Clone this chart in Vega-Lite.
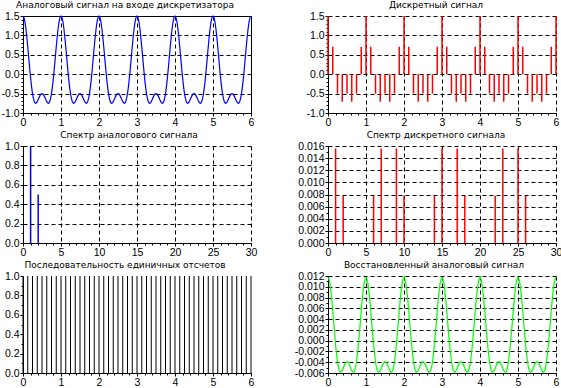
{
"$schema": "https://vega.github.io/schema/vega-lite/v6.json",
"padding": {"left": 0, "top": 0, "right": 0, "bottom": 0},
"background": "white",
"columns": 2,
"spacing": {"row": 33, "column": 77},
"bounds": "flush",
"datasets": {
"curve": [
{"t":0,"a":1.5,"r":0.011719},{"t":0.025,"a":1.4632,"r":0.011431},{"t":0.05,"a":1.3556,"r":0.010591},{"t":0.075,"a":1.1849,"r":0.009257},{"t":0.1,"a":0.9635,"r":0.007527},{"t":0.125,"a":0.7071,"r":0.005524},{"t":0.15,"a":0.4333,"r":0.003385},{"t":0.175,"a":0.1601,"r":0.001251},{"t":0.2,"a":-0.0955,"r":-0.000746},{"t":0.225,"a":-0.3191,"r":-0.002493},{"t":0.25,"a":-0.5,"r":-0.003906},{"t":0.275,"a":-0.632,"r":-0.004938},{"t":0.3,"a":-0.7135,"r":-0.005574},{"t":0.325,"a":-0.7479,"r":-0.005843},{"t":0.35,"a":-0.7423,"r":-0.005799},{"t":0.375,"a":-0.7071,"r":-0.005524},{"t":0.4,"a":-0.6545,"r":-0.005113},{"t":0.425,"a":-0.5971,"r":-0.004665},{"t":0.45,"a":-0.5466,"r":-0.00427},{"t":0.475,"a":-0.5122,"r":-0.004002},{"t":0.5,"a":-0.5,"r":-0.003906},{"t":0.525,"a":-0.5122,"r":-0.004002},{"t":0.55,"a":-0.5466,"r":-0.00427},{"t":0.575,"a":-0.5971,"r":-0.004665},{"t":0.6,"a":-0.6545,"r":-0.005113},{"t":0.625,"a":-0.7071,"r":-0.005524},{"t":0.65,"a":-0.7423,"r":-0.005799},{"t":0.675,"a":-0.7479,"r":-0.005843},{"t":0.7,"a":-0.7135,"r":-0.005574},{"t":0.725,"a":-0.632,"r":-0.004938},{"t":0.75,"a":-0.5,"r":-0.003906},{"t":0.775,"a":-0.3191,"r":-0.002493},{"t":0.8,"a":-0.0955,"r":-0.000746},{"t":0.825,"a":0.1601,"r":0.001251},{"t":0.85,"a":0.4333,"r":0.003385},{"t":0.875,"a":0.7071,"r":0.005524},{"t":0.9,"a":0.9635,"r":0.007527},{"t":0.925,"a":1.1849,"r":0.009257},{"t":0.95,"a":1.3556,"r":0.010591},{"t":0.975,"a":1.4632,"r":0.011431},
{"t":1,"a":1.5,"r":0.011719},{"t":1.025,"a":1.4632,"r":0.011431},{"t":1.05,"a":1.3556,"r":0.010591},{"t":1.075,"a":1.1849,"r":0.009257},{"t":1.1,"a":0.9635,"r":0.007527},{"t":1.125,"a":0.7071,"r":0.005524},{"t":1.15,"a":0.4333,"r":0.003385},{"t":1.175,"a":0.1601,"r":0.001251},{"t":1.2,"a":-0.0955,"r":-0.000746},{"t":1.225,"a":-0.3191,"r":-0.002493},{"t":1.25,"a":-0.5,"r":-0.003906},{"t":1.275,"a":-0.632,"r":-0.004938},{"t":1.3,"a":-0.7135,"r":-0.005574},{"t":1.325,"a":-0.7479,"r":-0.005843},{"t":1.35,"a":-0.7423,"r":-0.005799},{"t":1.375,"a":-0.7071,"r":-0.005524},{"t":1.4,"a":-0.6545,"r":-0.005113},{"t":1.425,"a":-0.5971,"r":-0.004665},{"t":1.45,"a":-0.5466,"r":-0.00427},{"t":1.475,"a":-0.5122,"r":-0.004002},{"t":1.5,"a":-0.5,"r":-0.003906},{"t":1.525,"a":-0.5122,"r":-0.004002},{"t":1.55,"a":-0.5466,"r":-0.00427},{"t":1.575,"a":-0.5971,"r":-0.004665},{"t":1.6,"a":-0.6545,"r":-0.005113},{"t":1.625,"a":-0.7071,"r":-0.005524},{"t":1.65,"a":-0.7423,"r":-0.005799},{"t":1.675,"a":-0.7479,"r":-0.005843},{"t":1.7,"a":-0.7135,"r":-0.005574},{"t":1.725,"a":-0.632,"r":-0.004938},{"t":1.75,"a":-0.5,"r":-0.003906},{"t":1.775,"a":-0.3191,"r":-0.002493},{"t":1.8,"a":-0.0955,"r":-0.000746},{"t":1.825,"a":0.1601,"r":0.001251},{"t":1.85,"a":0.4333,"r":0.003385},{"t":1.875,"a":0.7071,"r":0.005524},{"t":1.9,"a":0.9635,"r":0.007527},{"t":1.925,"a":1.1849,"r":0.009257},{"t":1.95,"a":1.3556,"r":0.010591},{"t":1.975,"a":1.4632,"r":0.011431},
{"t":2,"a":1.5,"r":0.011719},{"t":2.025,"a":1.4632,"r":0.011431},{"t":2.05,"a":1.3556,"r":0.010591},{"t":2.075,"a":1.1849,"r":0.009257},{"t":2.1,"a":0.9635,"r":0.007527},{"t":2.125,"a":0.7071,"r":0.005524},{"t":2.15,"a":0.4333,"r":0.003385},{"t":2.175,"a":0.1601,"r":0.001251},{"t":2.2,"a":-0.0955,"r":-0.000746},{"t":2.225,"a":-0.3191,"r":-0.002493},{"t":2.25,"a":-0.5,"r":-0.003906},{"t":2.275,"a":-0.632,"r":-0.004938},{"t":2.3,"a":-0.7135,"r":-0.005574},{"t":2.325,"a":-0.7479,"r":-0.005843},{"t":2.35,"a":-0.7423,"r":-0.005799},{"t":2.375,"a":-0.7071,"r":-0.005524},{"t":2.4,"a":-0.6545,"r":-0.005113},{"t":2.425,"a":-0.5971,"r":-0.004665},{"t":2.45,"a":-0.5466,"r":-0.00427},{"t":2.475,"a":-0.5122,"r":-0.004002},{"t":2.5,"a":-0.5,"r":-0.003906},{"t":2.525,"a":-0.5122,"r":-0.004002},{"t":2.55,"a":-0.5466,"r":-0.00427},{"t":2.575,"a":-0.5971,"r":-0.004665},{"t":2.6,"a":-0.6545,"r":-0.005113},{"t":2.625,"a":-0.7071,"r":-0.005524},{"t":2.65,"a":-0.7423,"r":-0.005799},{"t":2.675,"a":-0.7479,"r":-0.005843},{"t":2.7,"a":-0.7135,"r":-0.005574},{"t":2.725,"a":-0.632,"r":-0.004938},{"t":2.75,"a":-0.5,"r":-0.003906},{"t":2.775,"a":-0.3191,"r":-0.002493},{"t":2.8,"a":-0.0955,"r":-0.000746},{"t":2.825,"a":0.1601,"r":0.001251},{"t":2.85,"a":0.4333,"r":0.003385},{"t":2.875,"a":0.7071,"r":0.005524},{"t":2.9,"a":0.9635,"r":0.007527},{"t":2.925,"a":1.1849,"r":0.009257},{"t":2.95,"a":1.3556,"r":0.010591},{"t":2.975,"a":1.4632,"r":0.011431},
{"t":3,"a":1.5,"r":0.011719},{"t":3.025,"a":1.4632,"r":0.011431},{"t":3.05,"a":1.3556,"r":0.010591},{"t":3.075,"a":1.1849,"r":0.009257},{"t":3.1,"a":0.9635,"r":0.007527},{"t":3.125,"a":0.7071,"r":0.005524},{"t":3.15,"a":0.4333,"r":0.003385},{"t":3.175,"a":0.1601,"r":0.001251},{"t":3.2,"a":-0.0955,"r":-0.000746},{"t":3.225,"a":-0.3191,"r":-0.002493},{"t":3.25,"a":-0.5,"r":-0.003906},{"t":3.275,"a":-0.632,"r":-0.004938},{"t":3.3,"a":-0.7135,"r":-0.005574},{"t":3.325,"a":-0.7479,"r":-0.005843},{"t":3.35,"a":-0.7423,"r":-0.005799},{"t":3.375,"a":-0.7071,"r":-0.005524},{"t":3.4,"a":-0.6545,"r":-0.005113},{"t":3.425,"a":-0.5971,"r":-0.004665},{"t":3.45,"a":-0.5466,"r":-0.00427},{"t":3.475,"a":-0.5122,"r":-0.004002},{"t":3.5,"a":-0.5,"r":-0.003906},{"t":3.525,"a":-0.5122,"r":-0.004002},{"t":3.55,"a":-0.5466,"r":-0.00427},{"t":3.575,"a":-0.5971,"r":-0.004665},{"t":3.6,"a":-0.6545,"r":-0.005113},{"t":3.625,"a":-0.7071,"r":-0.005524},{"t":3.65,"a":-0.7423,"r":-0.005799},{"t":3.675,"a":-0.7479,"r":-0.005843},{"t":3.7,"a":-0.7135,"r":-0.005574},{"t":3.725,"a":-0.632,"r":-0.004938},{"t":3.75,"a":-0.5,"r":-0.003906},{"t":3.775,"a":-0.3191,"r":-0.002493},{"t":3.8,"a":-0.0955,"r":-0.000746},{"t":3.825,"a":0.1601,"r":0.001251},{"t":3.85,"a":0.4333,"r":0.003385},{"t":3.875,"a":0.7071,"r":0.005524},{"t":3.9,"a":0.9635,"r":0.007527},{"t":3.925,"a":1.1849,"r":0.009257},{"t":3.95,"a":1.3556,"r":0.010591},{"t":3.975,"a":1.4632,"r":0.011431},
{"t":4,"a":1.5,"r":0.011719},{"t":4.025,"a":1.4632,"r":0.011431},{"t":4.05,"a":1.3556,"r":0.010591},{"t":4.075,"a":1.1849,"r":0.009257},{"t":4.1,"a":0.9635,"r":0.007527},{"t":4.125,"a":0.7071,"r":0.005524},{"t":4.15,"a":0.4333,"r":0.003385},{"t":4.175,"a":0.1601,"r":0.001251},{"t":4.2,"a":-0.0955,"r":-0.000746},{"t":4.225,"a":-0.3191,"r":-0.002493},{"t":4.25,"a":-0.5,"r":-0.003906},{"t":4.275,"a":-0.632,"r":-0.004938},{"t":4.3,"a":-0.7135,"r":-0.005574},{"t":4.325,"a":-0.7479,"r":-0.005843},{"t":4.35,"a":-0.7423,"r":-0.005799},{"t":4.375,"a":-0.7071,"r":-0.005524},{"t":4.4,"a":-0.6545,"r":-0.005113},{"t":4.425,"a":-0.5971,"r":-0.004665},{"t":4.45,"a":-0.5466,"r":-0.00427},{"t":4.475,"a":-0.5122,"r":-0.004002},{"t":4.5,"a":-0.5,"r":-0.003906},{"t":4.525,"a":-0.5122,"r":-0.004002},{"t":4.55,"a":-0.5466,"r":-0.00427},{"t":4.575,"a":-0.5971,"r":-0.004665},{"t":4.6,"a":-0.6545,"r":-0.005113},{"t":4.625,"a":-0.7071,"r":-0.005524},{"t":4.65,"a":-0.7423,"r":-0.005799},{"t":4.675,"a":-0.7479,"r":-0.005843},{"t":4.7,"a":-0.7135,"r":-0.005574},{"t":4.725,"a":-0.632,"r":-0.004938},{"t":4.75,"a":-0.5,"r":-0.003906},{"t":4.775,"a":-0.3191,"r":-0.002493},{"t":4.8,"a":-0.0955,"r":-0.000746},{"t":4.825,"a":0.1601,"r":0.001251},{"t":4.85,"a":0.4333,"r":0.003385},{"t":4.875,"a":0.7071,"r":0.005524},{"t":4.9,"a":0.9635,"r":0.007527},{"t":4.925,"a":1.1849,"r":0.009257},{"t":4.95,"a":1.3556,"r":0.010591},{"t":4.975,"a":1.4632,"r":0.011431},
{"t":5,"a":1.5,"r":0.011719},{"t":5.025,"a":1.4632,"r":0.011431},{"t":5.05,"a":1.3556,"r":0.010591},{"t":5.075,"a":1.1849,"r":0.009257},{"t":5.1,"a":0.9635,"r":0.007527},{"t":5.125,"a":0.7071,"r":0.005524},{"t":5.15,"a":0.4333,"r":0.003385},{"t":5.175,"a":0.1601,"r":0.001251},{"t":5.2,"a":-0.0955,"r":-0.000746},{"t":5.225,"a":-0.3191,"r":-0.002493},{"t":5.25,"a":-0.5,"r":-0.003906},{"t":5.275,"a":-0.632,"r":-0.004938},{"t":5.3,"a":-0.7135,"r":-0.005574},{"t":5.325,"a":-0.7479,"r":-0.005843},{"t":5.35,"a":-0.7423,"r":-0.005799},{"t":5.375,"a":-0.7071,"r":-0.005524},{"t":5.4,"a":-0.6545,"r":-0.005113},{"t":5.425,"a":-0.5971,"r":-0.004665},{"t":5.45,"a":-0.5466,"r":-0.00427},{"t":5.475,"a":-0.5122,"r":-0.004002},{"t":5.5,"a":-0.5,"r":-0.003906},{"t":5.525,"a":-0.5122,"r":-0.004002},{"t":5.55,"a":-0.5466,"r":-0.00427},{"t":5.575,"a":-0.5971,"r":-0.004665},{"t":5.6,"a":-0.6545,"r":-0.005113},{"t":5.625,"a":-0.7071,"r":-0.005524},{"t":5.65,"a":-0.7423,"r":-0.005799},{"t":5.675,"a":-0.7479,"r":-0.005843},{"t":5.7,"a":-0.7135,"r":-0.005574},{"t":5.725,"a":-0.632,"r":-0.004938},{"t":5.75,"a":-0.5,"r":-0.003906},{"t":5.775,"a":-0.3191,"r":-0.002493},{"t":5.8,"a":-0.0955,"r":-0.000746},{"t":5.825,"a":0.1601,"r":0.001251},{"t":5.85,"a":0.4333,"r":0.003385},{"t":5.875,"a":0.7071,"r":0.005524},{"t":5.9,"a":0.9635,"r":0.007527},{"t":5.925,"a":1.1849,"r":0.009257},{"t":5.95,"a":1.3556,"r":0.010591},{"t":5.975,"a":1.4632,"r":0.011431},
{"t":6,"a":1.5,"r":0.011719}
],
"samples": [
{"t":0,"x":1.5,"u":1},{"t":0.125,"x":0.7071,"u":1},{"t":0.25,"x":-0.5,"u":1},{"t":0.375,"x":-0.7071,"u":1},{"t":0.5,"x":-0.5,"u":1},{"t":0.625,"x":-0.7071,"u":1},{"t":0.75,"x":-0.5,"u":1},{"t":0.875,"x":0.7071,"u":1},
{"t":1,"x":1.5,"u":1},{"t":1.125,"x":0.7071,"u":1},{"t":1.25,"x":-0.5,"u":1},{"t":1.375,"x":-0.7071,"u":1},{"t":1.5,"x":-0.5,"u":1},{"t":1.625,"x":-0.7071,"u":1},{"t":1.75,"x":-0.5,"u":1},{"t":1.875,"x":0.7071,"u":1},
{"t":2,"x":1.5,"u":1},{"t":2.125,"x":0.7071,"u":1},{"t":2.25,"x":-0.5,"u":1},{"t":2.375,"x":-0.7071,"u":1},{"t":2.5,"x":-0.5,"u":1},{"t":2.625,"x":-0.7071,"u":1},{"t":2.75,"x":-0.5,"u":1},{"t":2.875,"x":0.7071,"u":1},
{"t":3,"x":1.5,"u":1},{"t":3.125,"x":0.7071,"u":1},{"t":3.25,"x":-0.5,"u":1},{"t":3.375,"x":-0.7071,"u":1},{"t":3.5,"x":-0.5,"u":1},{"t":3.625,"x":-0.7071,"u":1},{"t":3.75,"x":-0.5,"u":1},{"t":3.875,"x":0.7071,"u":1},
{"t":4,"x":1.5,"u":1},{"t":4.125,"x":0.7071,"u":1},{"t":4.25,"x":-0.5,"u":1},{"t":4.375,"x":-0.7071,"u":1},{"t":4.5,"x":-0.5,"u":1},{"t":4.625,"x":-0.7071,"u":1},{"t":4.75,"x":-0.5,"u":1},{"t":4.875,"x":0.7071,"u":1},
{"t":5,"x":1.5,"u":1},{"t":5.125,"x":0.7071,"u":1},{"t":5.25,"x":-0.5,"u":1},{"t":5.375,"x":-0.7071,"u":1},{"t":5.5,"x":-0.5,"u":1},{"t":5.625,"x":-0.7071,"u":1},{"t":5.75,"x":-0.5,"u":1},{"t":5.875,"x":0.7071,"u":1},
{"t":6,"x":1.5,"u":1}
],
"spec_a": [{"f":1,"m":1},{"f":2,"m":0.5}],
"spec_d": [{"f":1,"m":0.0156},{"f":2,"m":0.0078},{"f":6,"m":0.0078},{"f":7,"m":0.0156},{"f":9,"m":0.0156},{"f":10,"m":0.0078},{"f":14,"m":0.0078},{"f":15,"m":0.0156},{"f":17,"m":0.0156},{"f":18,"m":0.0078},{"f":22,"m":0.0078},{"f":23,"m":0.0156},{"f":25,"m":0.0156},{"f":26,"m":0.0078}]
},
"config": {
"locale": {"number": {"decimal": ".", "thousands": ",", "grouping": [3], "currency": ["$", ""], "minus": "-"}},
"view": {"stroke": null},
"axis": {"domainColor": "black", "domainWidth": 1, "tickColor": "black", "tickSize": 3, "tickWidth": 1, "labelColor": "black", "labelFont": "Liberation Sans", "labelFontSize": 10.5, "labelPadding": 1, "labelFlush": false, "labelOverlap": false, "labelBound": false, "gridColor": "black", "gridOpacity": 1, "gridDash": [4, 3], "gridWidth": 1},
"title": {"font": "DejaVu Sans", "fontSize": 9, "fontWeight": "normal", "color": "black", "offset": 1, "anchor": "middle"}
},
"concat": [
{
"width": 228, "height": 97,
"title": {"text": "Аналоговый сигнал на входе дискретизатора", "dx": -12},
"view": {"stroke": "black", "strokeWidth": 1},
"resolve": {"axis": {"x": "independent", "y": "independent"}},
"layer": [
{"data": {"name": "curve"}, "mark": {"type": "line", "color": "#0000ff", "strokeWidth": 1.2},
"encoding": {
"x": {"field": "t", "type": "quantitative", "scale": {"domain": [0, 6], "nice": false}, "axis": {"title": null, "values": [0, 1, 2, 3, 4, 5, 6], "format": "d", "grid": true}},
"y": {"field": "a", "type": "quantitative", "scale": {"domain": [-1, 1.5], "nice": false, "zero": false}, "axis": {"title": null, "values": [-1, -0.5, 0, 0.5, 1, 1.5], "format": ".1f", "grid": true}}}},
{"data": {"name": "samples"}, "mark": {"type": "point", "opacity": 0},
"encoding": {
"x": {"field": "t", "type": "quantitative", "scale": {"domain": [0, 6], "nice": false}, "axis": {"title": null, "orient": "bottom", "values": [0,0.2,0.4,0.6,0.8,1,1.2,1.4,1.6,1.8,2,2.2,2.4,2.6,2.8,3,3.2,3.4,3.6,3.8,4,4.2,4.4,4.6,4.8,5,5.2,5.4,5.6,5.8,6], "labels": false, "domain": false, "grid": false, "tickSize": 2}},
"y": {"field": "x", "type": "quantitative", "scale": {"domain": [-1, 1.5], "nice": false, "zero": false}, "axis": {"title": null, "orient": "left", "values": [-1,-0.9,-0.8,-0.7,-0.6,-0.5,-0.4,-0.3,-0.2,-0.1,0,0.1,0.2,0.3,0.4,0.5,0.6,0.7,0.8,0.9,1,1.1,1.2,1.3,1.4,1.5], "labels": false, "domain": false, "grid": false, "tickSize": 2}}}}
]
},
{
"width": 228, "height": 97,
"title": {"text": "Дискретный сигнал", "dx": -6},
"resolve": {"axis": {"x": "independent", "y": "independent"}},
"layer": [
{"data": {"name": "samples"}, "mark": {"type": "rule", "color": "#ff0000", "strokeWidth": 1.5},
"encoding": {
"x": {"field": "t", "type": "quantitative", "scale": {"domain": [0, 6], "nice": false}, "axis": {"title": null, "values": [0, 1, 2, 3, 4, 5, 6], "format": "d", "grid": true}},
"y": {"field": "x", "type": "quantitative", "scale": {"domain": [-1, 1.5], "nice": false, "zero": false}, "axis": {"title": null, "values": [-1, -0.5, 0, 0.5, 1, 1.5], "format": ".1f", "grid": true}},
"y2": {"datum": 0}}},
{"data": {"name": "samples"}, "mark": {"type": "point", "opacity": 0},
"encoding": {
"x": {"field": "t", "type": "quantitative", "scale": {"domain": [0, 6], "nice": false}, "axis": {"title": null, "orient": "bottom", "values": [0,0.2,0.4,0.6,0.8,1,1.2,1.4,1.6,1.8,2,2.2,2.4,2.6,2.8,3,3.2,3.4,3.6,3.8,4,4.2,4.4,4.6,4.8,5,5.2,5.4,5.6,5.8,6], "labels": false, "domain": false, "grid": false, "tickSize": 2}},
"y": {"field": "x", "type": "quantitative", "scale": {"domain": [-1, 1.5], "nice": false, "zero": false}, "axis": {"title": null, "orient": "left", "values": [-1,-0.9,-0.8,-0.7,-0.6,-0.5,-0.4,-0.3,-0.2,-0.1,0,0.1,0.2,0.3,0.4,0.5,0.6,0.7,0.8,0.9,1,1.1,1.2,1.3,1.4,1.5], "labels": false, "domain": false, "grid": false, "tickSize": 2}}}}
]
},
{
"width": 228, "height": 97,
"title": {"text": "Спектр аналогового сигнала", "dx": -8},
"resolve": {"axis": {"x": "independent", "y": "independent"}},
"layer": [
{"data": {"name": "spec_a"}, "mark": {"type": "rule", "color": "#0000ff", "strokeWidth": 1.5},
"encoding": {
"x": {"field": "f", "type": "quantitative", "scale": {"domain": [0, 30], "nice": false}, "axis": {"title": null, "values": [0, 5, 10, 15, 20, 25, 30], "format": "d", "grid": true}},
"y": {"field": "m", "type": "quantitative", "scale": {"domain": [0, 1], "nice": false}, "axis": {"title": null, "values": [0, 0.2, 0.4, 0.6, 0.8, 1], "format": ".1f", "grid": true}},
"y2": {"datum": 0}}},
{"data": {"name": "spec_a"}, "mark": {"type": "point", "opacity": 0},
"encoding": {
"x": {"field": "f", "type": "quantitative", "scale": {"domain": [0, 30], "nice": false}, "axis": {"title": null, "orient": "bottom", "values": [0,1,2,3,4,5,6,7,8,9,10,11,12,13,14,15,16,17,18,19,20,21,22,23,24,25,26,27,28,29,30], "labels": false, "domain": false, "grid": false, "tickSize": 2}},
"y": {"field": "m", "type": "quantitative", "scale": {"domain": [0, 1], "nice": false}, "axis": {"title": null, "orient": "left", "values": [0,0.1,0.2,0.3,0.4,0.5,0.6,0.7,0.8,0.9,1], "labels": false, "domain": false, "grid": false, "tickSize": 2}}}}
]
},
{
"width": 228, "height": 97,
"title": {"text": "Спектр дискретного сигнала", "dx": -6},
"resolve": {"axis": {"x": "independent", "y": "independent"}},
"layer": [
{"data": {"name": "spec_d"}, "mark": {"type": "rule", "color": "#ff0000", "strokeWidth": 1.5},
"encoding": {
"x": {"field": "f", "type": "quantitative", "scale": {"domain": [0, 30], "nice": false}, "axis": {"title": null, "values": [0, 5, 10, 15, 20, 25, 30], "format": "d", "grid": true}},
"y": {"field": "m", "type": "quantitative", "scale": {"domain": [0, 0.016], "nice": false}, "axis": {"title": null, "values": [0, 0.002, 0.004, 0.006, 0.008, 0.01, 0.012, 0.014, 0.016], "format": ".3f", "grid": true}},
"y2": {"datum": 0}}},
{"data": {"name": "spec_d"}, "mark": {"type": "point", "opacity": 0},
"encoding": {
"x": {"field": "f", "type": "quantitative", "scale": {"domain": [0, 30], "nice": false}, "axis": {"title": null, "orient": "bottom", "values": [0,1,2,3,4,5,6,7,8,9,10,11,12,13,14,15,16,17,18,19,20,21,22,23,24,25,26,27,28,29,30], "labels": false, "domain": false, "grid": false, "tickSize": 2}},
"y": {"field": "m", "type": "quantitative", "scale": {"domain": [0, 0.016], "nice": false}, "axis": {"title": null, "orient": "left", "values": [0,0.001,0.002,0.003,0.004,0.005,0.006,0.007,0.008,0.009,0.01,0.011,0.012,0.013,0.014,0.015,0.016], "labels": false, "domain": false, "grid": false, "tickSize": 2}}}}
]
},
{
"width": 228, "height": 97,
"title": {"text": "Последовательность  единичных отсчетов", "dx": -12},
"resolve": {"axis": {"x": "independent", "y": "independent"}},
"layer": [
{"data": {"name": "samples"}, "mark": {"type": "rule", "color": "#000000", "strokeWidth": 1},
"encoding": {
"x": {"field": "t", "type": "quantitative", "scale": {"domain": [0, 6], "nice": false}, "axis": {"title": null, "values": [0, 1, 2, 3, 4, 5, 6], "format": "d", "grid": false}},
"y": {"field": "u", "type": "quantitative", "scale": {"domain": [0, 1], "nice": false}, "axis": {"title": null, "values": [0, 0.2, 0.4, 0.6, 0.8, 1], "format": ".1f", "grid": false}},
"y2": {"datum": 0}}},
{"data": {"name": "samples"}, "mark": {"type": "point", "opacity": 0},
"encoding": {
"x": {"field": "t", "type": "quantitative", "scale": {"domain": [0, 6], "nice": false}, "axis": {"title": null, "orient": "bottom", "values": [0,0.2,0.4,0.6,0.8,1,1.2,1.4,1.6,1.8,2,2.2,2.4,2.6,2.8,3,3.2,3.4,3.6,3.8,4,4.2,4.4,4.6,4.8,5,5.2,5.4,5.6,5.8,6], "labels": false, "domain": false, "grid": false, "tickSize": 2}},
"y": {"field": "u", "type": "quantitative", "scale": {"domain": [0, 1], "nice": false}, "axis": {"title": null, "orient": "left", "values": [0,0.1,0.2,0.3,0.4,0.5,0.6,0.7,0.8,0.9,1], "labels": false, "domain": false, "grid": false, "tickSize": 2}}}}
]
},
{
"width": 228, "height": 97,
"title": {"text": "Восстановленный аналоговый сигнал", "dx": -8},
"resolve": {"axis": {"x": "independent", "y": "independent"}},
"layer": [
{"data": {"name": "curve"}, "mark": {"type": "line", "color": "#00ff00", "strokeWidth": 1.2},
"encoding": {
"x": {"field": "t", "type": "quantitative", "scale": {"domain": [0, 6], "nice": false}, "axis": {"title": null, "values": [0, 1, 2, 3, 4, 5, 6], "format": "d", "grid": true}},
"y": {"field": "r", "type": "quantitative", "scale": {"domain": [-0.006, 0.012], "nice": false, "zero": false}, "axis": {"title": null, "values": [-0.006, -0.004, -0.002, 0, 0.002, 0.004, 0.006, 0.008, 0.01, 0.012], "format": ".3f", "grid": true}}}},
{"data": {"name": "curve"}, "mark": {"type": "point", "opacity": 0},
"encoding": {
"x": {"field": "t", "type": "quantitative", "scale": {"domain": [0, 6], "nice": false}, "axis": {"title": null, "orient": "bottom", "values": [0,0.2,0.4,0.6,0.8,1,1.2,1.4,1.6,1.8,2,2.2,2.4,2.6,2.8,3,3.2,3.4,3.6,3.8,4,4.2,4.4,4.6,4.8,5,5.2,5.4,5.6,5.8,6], "labels": false, "domain": false, "grid": false, "tickSize": 2}},
"y": {"field": "r", "type": "quantitative", "scale": {"domain": [-0.006, 0.012], "nice": false, "zero": false}, "axis": {"title": null, "orient": "left", "values": [-0.006,-0.005,-0.004,-0.003,-0.002,-0.001,0,0.001,0.002,0.003,0.004,0.005,0.006,0.007,0.008,0.009,0.01,0.011,0.012], "labels": false, "domain": false, "grid": false, "tickSize": 2}}}}
]
}
]
}
